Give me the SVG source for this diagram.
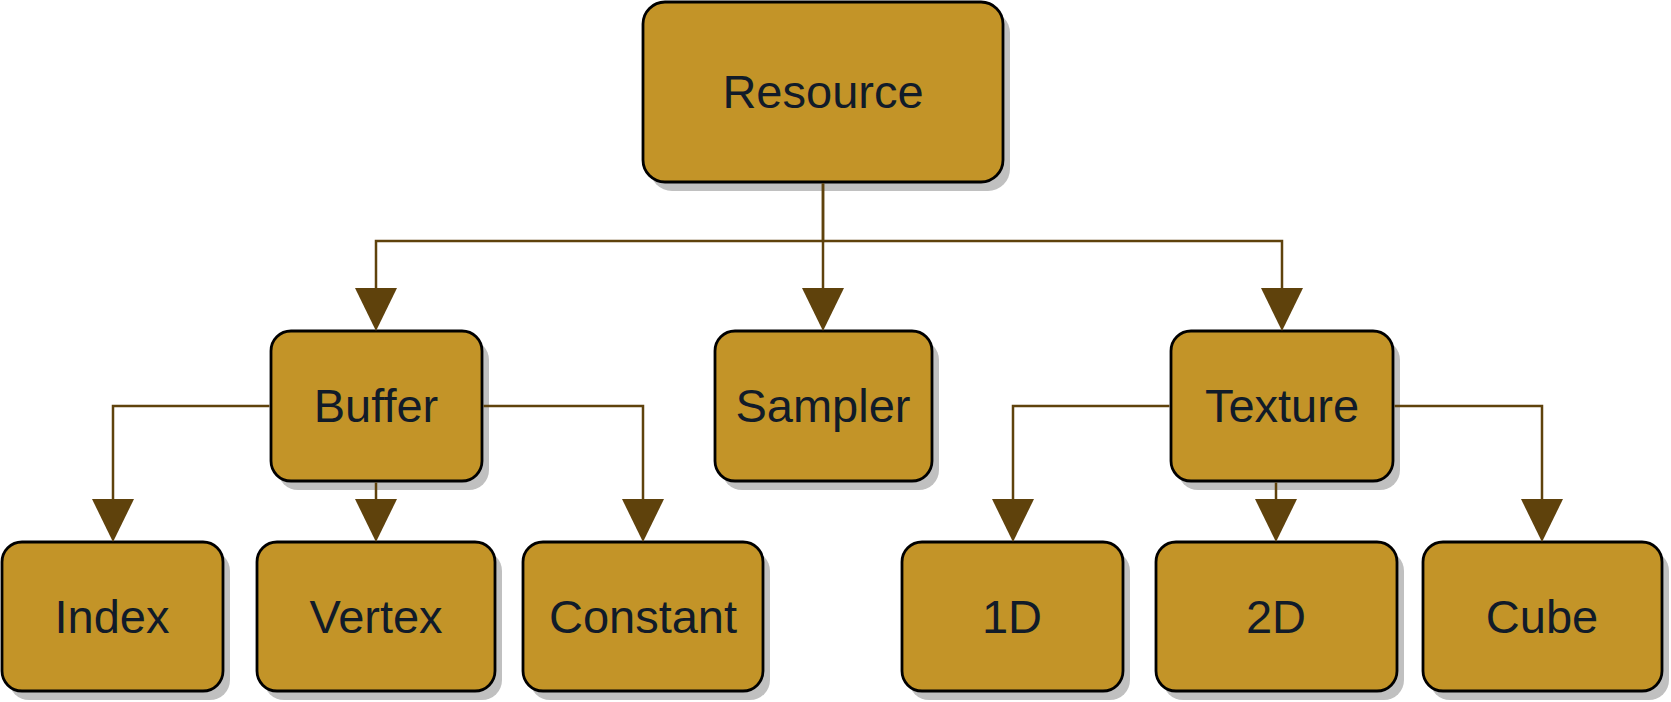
<svg xmlns="http://www.w3.org/2000/svg" width="1671" height="702" viewBox="0 0 1671 702">
<style>
.sh{fill:#c0c0c0;}
.box{fill:#c39428;stroke:#000;stroke-width:2.8;}
.lbl{font-family:"Liberation Sans",Arial,sans-serif;font-size:47px;fill:#111b29;text-anchor:middle;}
.conn{fill:none;stroke:#5f420c;stroke-width:2.5;}
.ah{fill:#5f420c;}
</style>
<rect width="1671" height="702" fill="#fff"/>
<g id="resource">
<rect class="sh" x="650" y="11" width="360" height="180" rx="22"/>
<rect class="box" x="643" y="2" width="360" height="180" rx="22"/>
<text class="lbl" x="823" y="108">Resource</text>
</g>
<g id="buffer">
<rect class="sh" x="278" y="340" width="211" height="150" rx="20"/>
<rect class="box" x="271" y="331" width="211" height="150" rx="20"/>
<text class="lbl" x="376" y="422">Buffer</text>
</g>
<g id="sampler">
<rect class="sh" x="722" y="340" width="217" height="150" rx="20"/>
<rect class="box" x="715" y="331" width="217" height="150" rx="20"/>
<text class="lbl" x="823" y="422">Sampler</text>
</g>
<g id="texture">
<rect class="sh" x="1178" y="340" width="222" height="150" rx="20"/>
<rect class="box" x="1171" y="331" width="222" height="150" rx="20"/>
<text class="lbl" x="1282" y="422">Texture</text>
</g>
<g id="index">
<rect class="sh" x="9" y="551" width="221" height="149" rx="20"/>
<rect class="box" x="2" y="542" width="221" height="149" rx="20"/>
<text class="lbl" x="112" y="633">Index</text>
</g>
<g id="vertex">
<rect class="sh" x="264" y="551" width="238" height="149" rx="20"/>
<rect class="box" x="257" y="542" width="238" height="149" rx="20"/>
<text class="lbl" x="376" y="633">Vertex</text>
</g>
<g id="constant">
<rect class="sh" x="530" y="551" width="240" height="149" rx="20"/>
<rect class="box" x="523" y="542" width="240" height="149" rx="20"/>
<text class="lbl" x="643" y="633">Constant</text>
</g>
<g id="d1">
<rect class="sh" x="909" y="551" width="221" height="149" rx="20"/>
<rect class="box" x="902" y="542" width="221" height="149" rx="20"/>
<text class="lbl" x="1012" y="633">1D</text>
</g>
<g id="d2">
<rect class="sh" x="1163" y="551" width="241" height="149" rx="20"/>
<rect class="box" x="1156" y="542" width="241" height="149" rx="20"/>
<text class="lbl" x="1276" y="633">2D</text>
</g>
<g id="cube">
<rect class="sh" x="1430" y="551" width="239" height="149" rx="20"/>
<rect class="box" x="1423" y="542" width="239" height="149" rx="20"/>
<text class="lbl" x="1542" y="633">Cube</text>
</g>
<g id="connectors">
<path class="conn" d="M823,183.5 V241 H376 V288"/>
<path class="ah" d="M355,288 L397,288 L376,331 Z"/>
<path class="conn" d="M823,183.5 V288"/>
<path class="ah" d="M802,288 L844,288 L823,331 Z"/>
<path class="conn" d="M823,241 H1282 V288"/>
<path class="ah" d="M1261,288 L1303,288 L1282,331 Z"/>
<path class="conn" d="M269.5,406 H113 V499"/>
<path class="ah" d="M92,499 L134,499 L113,542 Z"/>
<path class="conn" d="M376,482.5 V499"/>
<path class="ah" d="M355,499 L397,499 L376,542 Z"/>
<path class="conn" d="M483.5,406 H643 V499"/>
<path class="ah" d="M622,499 L664,499 L643,542 Z"/>
<path class="conn" d="M1169.5,406 H1013 V499"/>
<path class="ah" d="M992,499 L1034,499 L1013,542 Z"/>
<path class="conn" d="M1276,482.5 V499"/>
<path class="ah" d="M1255,499 L1297,499 L1276,542 Z"/>
<path class="conn" d="M1394.5,406 H1542 V499"/>
<path class="ah" d="M1521,499 L1563,499 L1542,542 Z"/>
</g>
</svg>
